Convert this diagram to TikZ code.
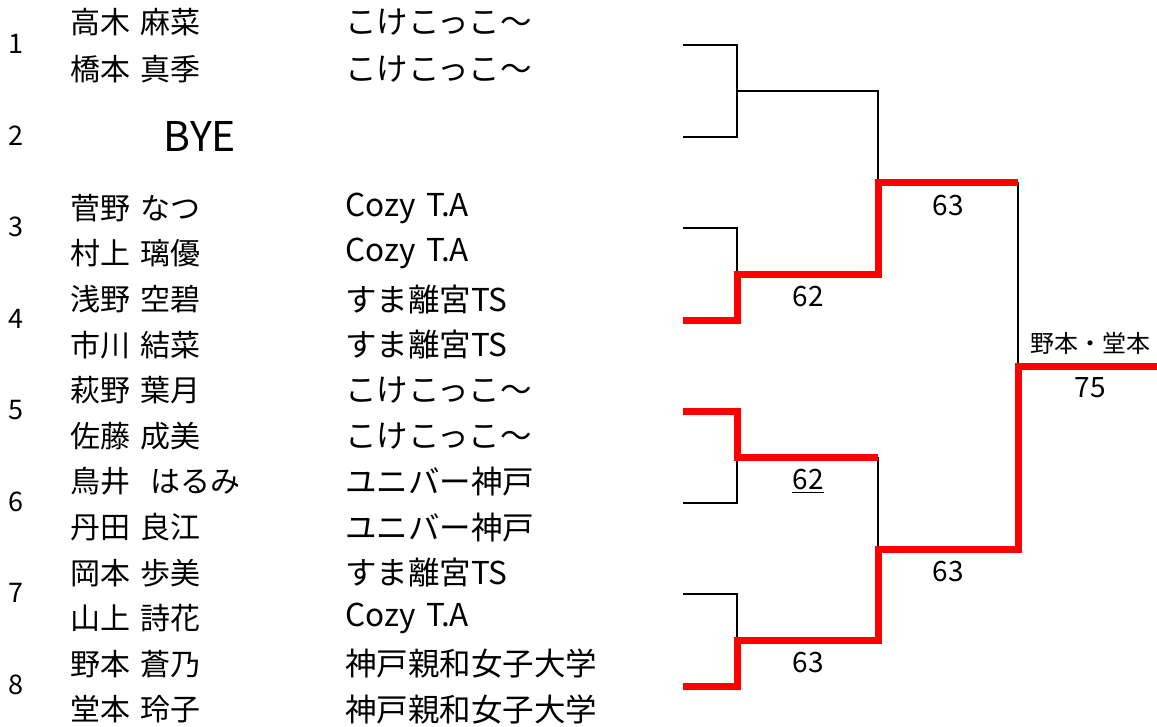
\documentclass[tikz,border=0pt]{standalone}
\usepackage{fontspec}
\setmainfont[WordSpace=1.5]{Noto Sans CJK JP}
\usetikzlibrary{positioning}
\definecolor{win_red}{RGB}{255, 0, 0}
\newcommand\xa{683}
\newcommand\xb{737}
\newcommand\xc{878}
\newcommand\xd{1018}
\newcommand\xe{1157}
\tikzset{loss_line/.style = {line width=2.8pt, draw=black}}
\tikzset{win_line/.style = {line width=7pt, draw=win_red, line join=miter}}
\tikzset{name_txt/.style = {anchor=west, inner sep=0pt, font=\fontsize{30}{30}\selectfont}}
\tikzset{team_txt/.style = {anchor=west, inner sep=0pt, font=\fontsize{31.5}{31.5}\selectfont}}
\tikzset{seed_txt/.style = {inner sep=0pt, font=\fontsize{27}{27}\selectfont}}
\tikzset{score_txt/.style = {inner sep=0pt, font=\fontsize{28}{28}\selectfont}}

\begin{document}
\begin{tikzpicture}[x=1pt,y=-1pt]
\useasboundingbox (0,0) rectangle (1157,726);

\foreach \k/\y/\nm/\tm in {1/22.5/高木 麻菜/こけこっこ〜, 2/69.5/橋本 真季/こけこっこ〜,
	3/208/菅野 なつ/Cozy T.A, 4/253.6/村上 璃優/Cozy T.A,
	5/299.2/浅野 空碧/すま離宮TS, 6/344.8/市川 結菜/すま離宮TS,
	7/390.4/萩野 葉月/こけこっこ〜, 8/436/佐藤 成美/こけこっこ〜,
	9/481.6/鳥井\ \ はるみ/ユニバー神戸, 10/527.2/丹田 良江/ユニバー神戸,
	11/572.8/岡本 歩美/すま離宮TS, 12/618.4/山上 詩花/Cozy T.A,
	13/664/野本 蒼乃/神戸親和女子大学, 14/709.6/堂本 玲子/神戸親和女子大学}{
	\node[name_txt] (p\k) at (70,\y) {\nm};
	\node[team_txt] (t\k) at (345,\y) {\tm};
	}
\node[font=\fontsize{41}{41}\selectfont, inner sep=0pt] (bye) at (200,136) {BYE};

\foreach \j/\y in {1/45,2/137,3/228,4/320,5/411,6/503,7/594,8/686}{
	\node[seed_txt] (n\j) at (16,\y-1) {\j};
	\coordinate (s\j) at (\xa,\y);
	}
\coordinate (r1) at (\xb,91);
\coordinate (r2) at (\xb,274);
\coordinate (r3) at (\xb,457);
\coordinate (r4) at (\xb,640);
\coordinate (q1) at (\xc,182);
\coordinate (q2) at (\xc,549);
\coordinate (f) at (\xd,366);
\coordinate (w) at (\xe,366);

% losers first, winners on top
\draw[loss_line] (s1) -| (r1) |- (s2);
\draw[loss_line] (r1) -| (q1);
\draw[loss_line] (s3) -| (r2);
\draw[loss_line] (s6) -| (r3);
\draw[loss_line] (r3 -| q2) -- (q2);
\draw[loss_line] (s7) -| (r4);
\draw[loss_line] (q1 -| f) -- (f);

\draw[win_line] (s4) -| (r2) -| (q1) -- (q1 -| f);
\draw[win_line] (s5) -| (r3) -- (r3 -| q2);
\draw[win_line] (s8) -| (r4) -| (q2) -| (f) -- (w);

\node[score_txt] (sc1) at (948,206) {63};
\node[score_txt] (sc2) at (808,297) {62};
\node[score_txt] (sc3) at (808,481) {\underline{62}};
\node[score_txt] (sc4) at (948,572) {63};
\node[score_txt] (sc5) at (808,663) {63};
\node[score_txt] (sc6) at (1090,388) {75};
\node[inner sep=0pt, font=\fontsize{24}{24}\selectfont] (champ) at (1090,343) {野本・堂本};
\end{tikzpicture}
\end{document}
